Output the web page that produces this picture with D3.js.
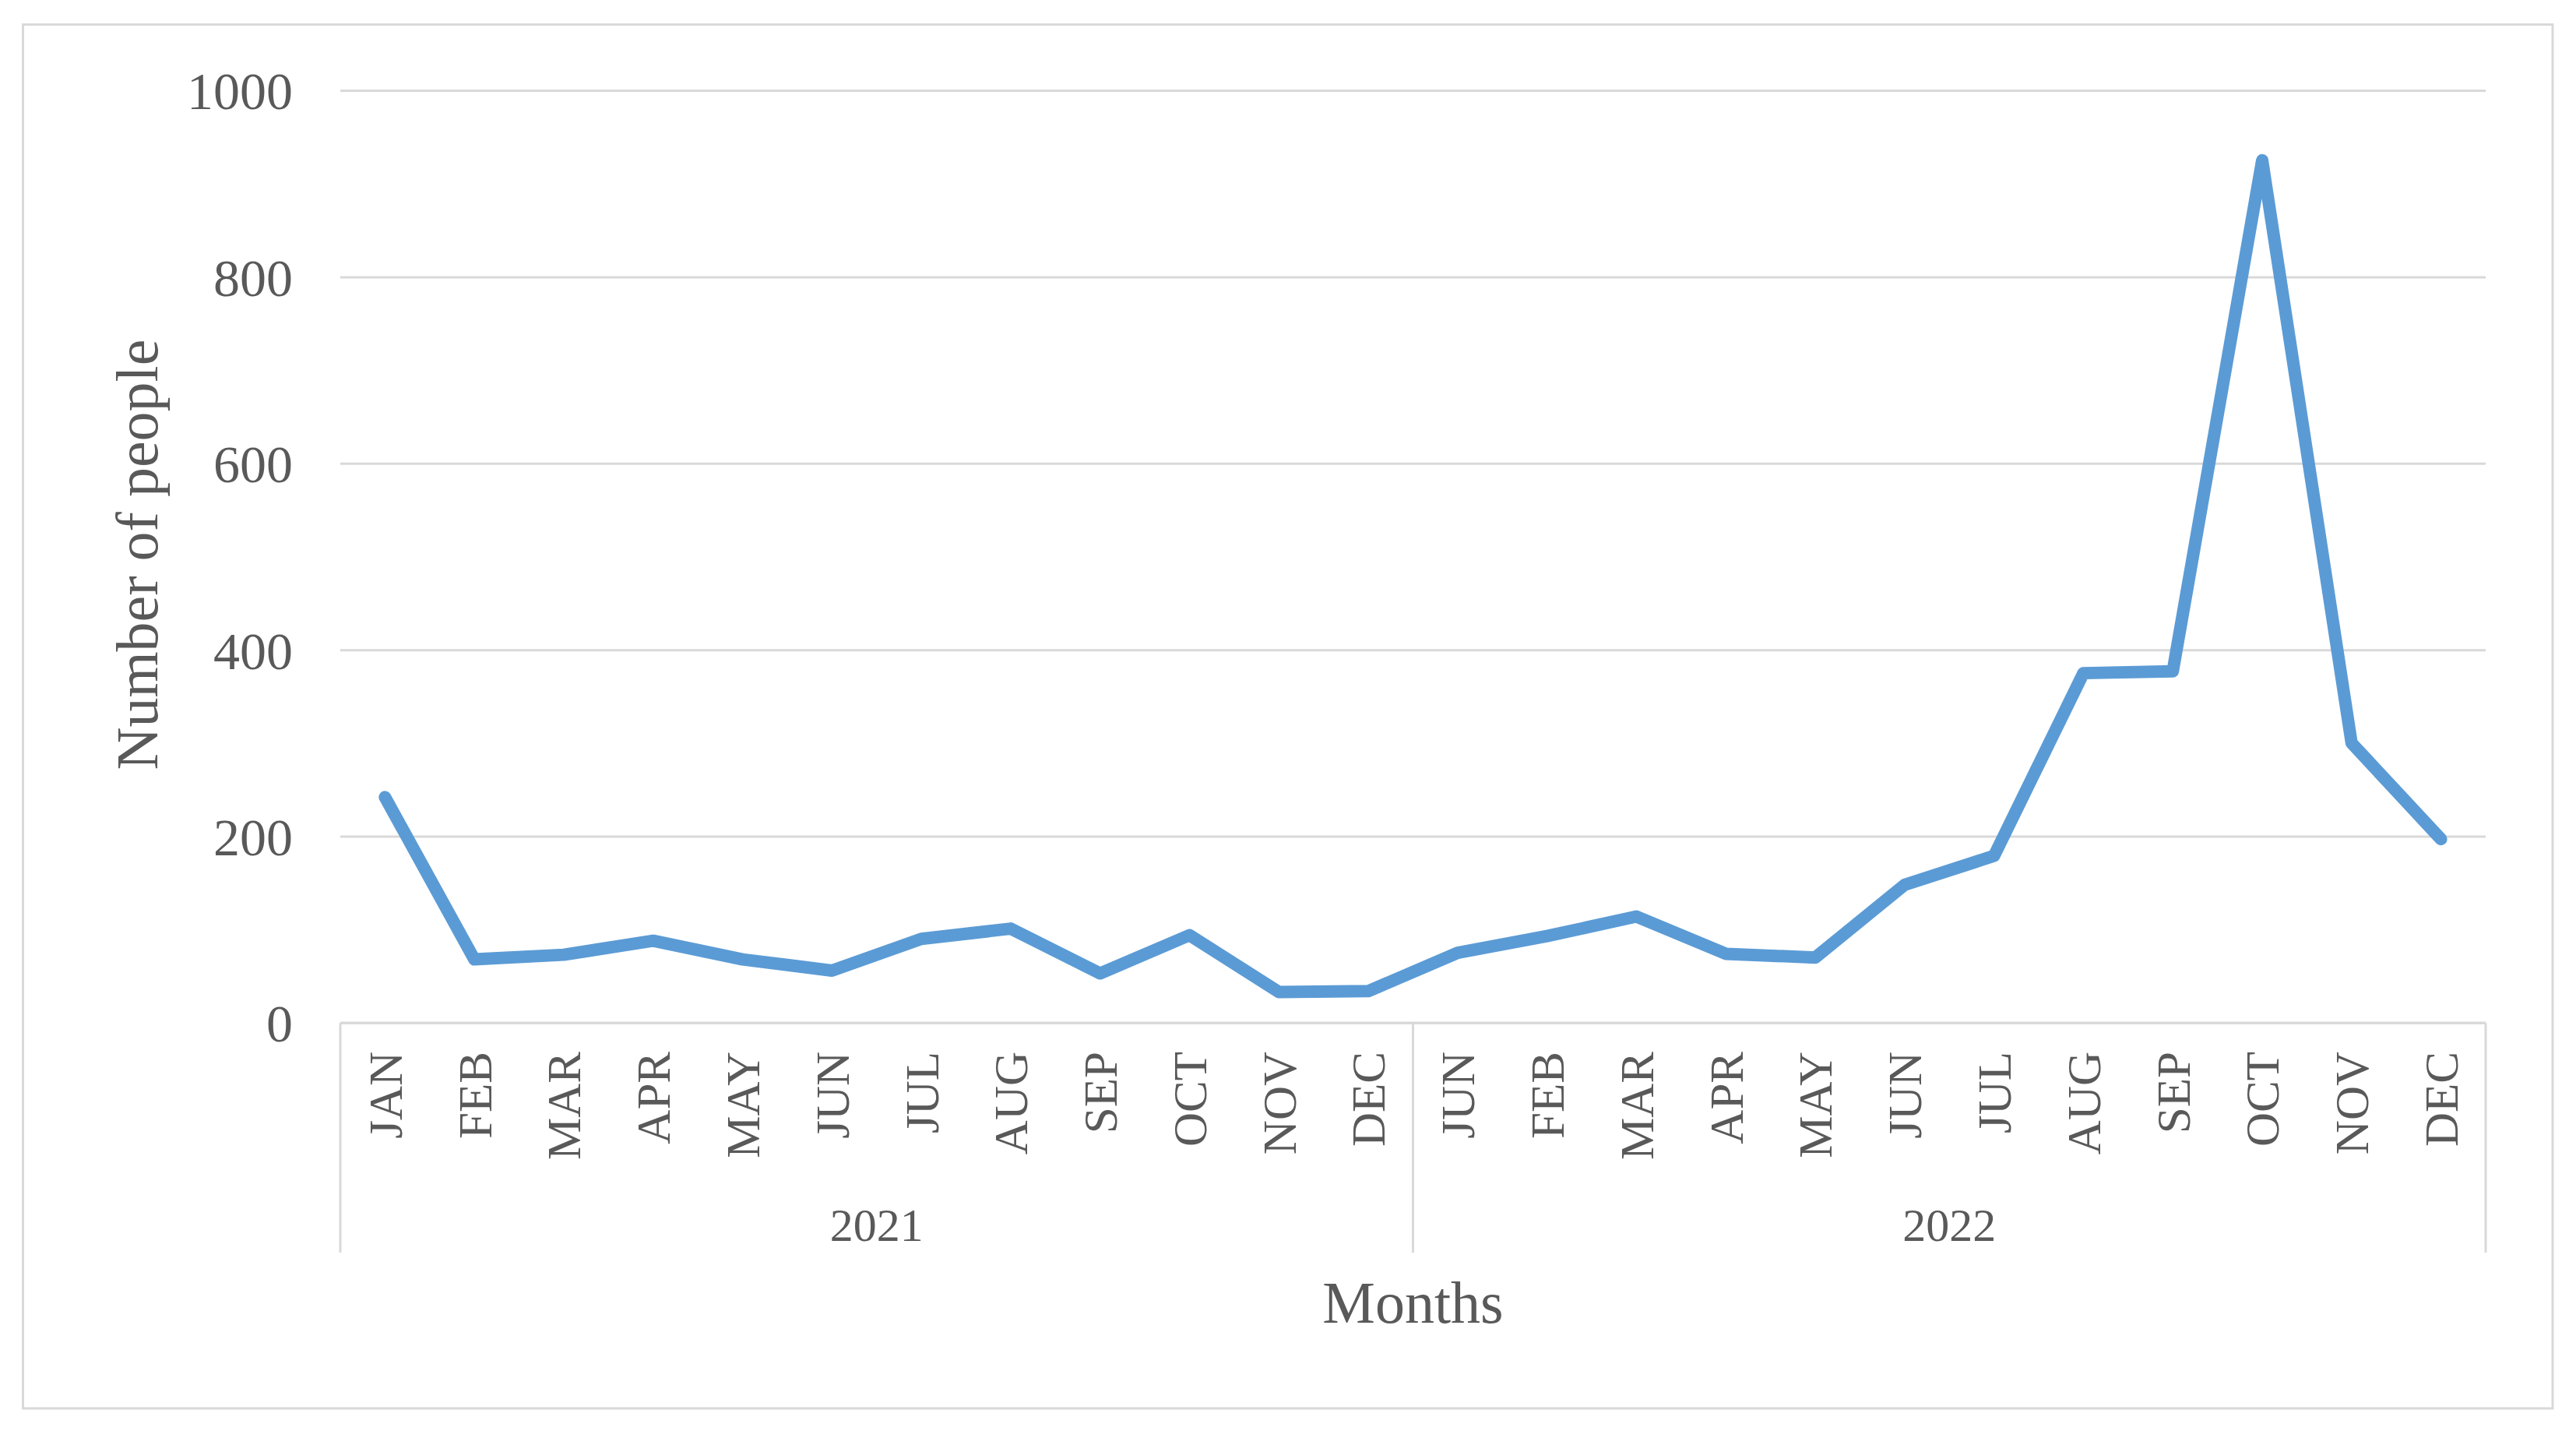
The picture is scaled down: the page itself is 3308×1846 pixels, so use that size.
<!DOCTYPE html>
<html>
<head>
<meta charset="utf-8">
<script src="https://cdn.jsdelivr.net/npm/d3@7"></script>
<style>
  html, body { margin: 0; padding: 0; background: #fff; }
  svg { display: block; }
  text { font-family: "Liberation Serif", "Times New Roman", serif; fill: #595959; }
</style>
</head>
<body>
<svg id="chart" width="3308" height="1846"></svg>
<script>
// ---- data ----
const years = ["2021", "2022"];
const months2021 = ["JAN","FEB","MAR","APR","MAY","JUN","JUL","AUG","SEP","OCT","NOV","DEC"];
const months2022 = ["JUN","FEB","MAR","APR","MAY","JUN","JUL","AUG","SEP","OCT","NOV","DEC"];
const values2021 = [242, 68, 73, 88, 68, 56, 90, 101, 53, 94, 33, 34];
const values2022 = [75, 93, 114, 74, 70, 148, 179, 375, 377, 925, 300, 197];
const yTicks = [0, 200, 400, 600, 800, 1000];
const yTitle = "Number of people";
const xTitle = "Months";

// ---- combined table ----
const rows = [];
months2021.forEach((m, i) => rows.push({ key: "2021-" + i, month: m, year: years[0], value: values2021[i] }));
months2022.forEach((m, i) => rows.push({ key: "2022-" + i, month: m, year: years[1], value: values2022[i] }));

// ---- layout ----
const W = 3308, H = 1846;
const plotL = 437, plotR = 3192, plotT = 116, plotB = 1313;
const gridColor = "#d9d9d9";
const lineColor = "#5b9bd5";

const svg = d3.select("#chart");

// outer border
svg.append("rect")
  .attr("x", 29.5).attr("y", 31.5)
  .attr("width", 3278 - 29.5).attr("height", 1808 - 31.5)
  .attr("fill", "#fff").attr("stroke", gridColor).attr("stroke-width", 3);

const x = d3.scaleBand().domain(rows.map(d => d.key)).range([plotL, plotR]).padding(0);
const y = d3.scaleLinear().domain([0, 1000]).range([plotB, plotT]);

// y axis with gridlines
const yAxis = d3.axisLeft(y).tickValues(yTicks).tickSize(-(plotR - plotL)).tickPadding(0).tickFormat(d3.format("d"));
const gy = svg.append("g").attr("transform", `translate(${plotL},0)`).call(yAxis);
gy.select(".domain").remove();
gy.selectAll(".tick line").attr("stroke", gridColor).attr("stroke-width", 3);
gy.selectAll(".tick text")
  .attr("x", -61)
  .attr("dy", "0.35em")
  .style("font-size", "68px")
  .style("fill", "#595959");

// x axis (month labels)
const monthByKey = new Map(rows.map(d => [d.key, d.month]));
const xAxis = d3.axisBottom(x).tickSize(0).tickFormat(k => monthByKey.get(k));
const gx = svg.append("g").attr("transform", `translate(0,${plotB})`).call(xAxis);
gx.select(".domain").attr("stroke", gridColor).attr("stroke-width", 3).attr("d", `M${plotL},0H${plotR}`);
gx.selectAll(".tick text")
  .attr("transform", "rotate(-90)")
  .attr("x", -37)
  .attr("y", 0)
  .attr("dy", "0.35em")
  .attr("text-anchor", "end")
  .style("font-size", "61px")
  .style("fill", "#595959");

// year group separators
const sepBottom = 1608;
const bounds = [plotL, x(rows[12].key), plotR];
svg.selectAll("line.sep").data(bounds).enter().append("line")
  .attr("class", "sep")
  .attr("x1", d => d).attr("x2", d => d)
  .attr("y1", plotB).attr("y2", sepBottom)
  .attr("stroke", gridColor).attr("stroke-width", 3);

// year labels
svg.selectAll("text.year").data(years).enter().append("text")
  .attr("class", "year")
  .attr("x", (d, i) => (bounds[i] + bounds[i + 1]) / 2)
  .attr("y", 1572)
  .attr("dy", "0.35em")
  .attr("text-anchor", "middle")
  .style("font-size", "60px")
  .text(d => d);

// line
const line = d3.line().x(d => x(d.key) + x.bandwidth() / 2).y(d => y(d.value));
svg.append("path").datum(rows)
  .attr("d", line)
  .attr("fill", "none")
  .attr("stroke", lineColor)
  .attr("stroke-width", 16)
  .attr("stroke-linejoin", "round")
  .attr("stroke-linecap", "round");

// axis titles
svg.append("text")
  .attr("x", (plotL + plotR) / 2).attr("y", 1671)
  .attr("dy", "0.35em")
  .attr("text-anchor", "middle")
  .style("font-size", "76px")
  .text(xTitle);

svg.append("text")
  .attr("transform", `translate(178,712) rotate(-90)`)
  .attr("dy", "0.32em")
  .attr("text-anchor", "middle")
  .style("font-size", "76px")
  .text(yTitle);
</script>
</body>
</html>
